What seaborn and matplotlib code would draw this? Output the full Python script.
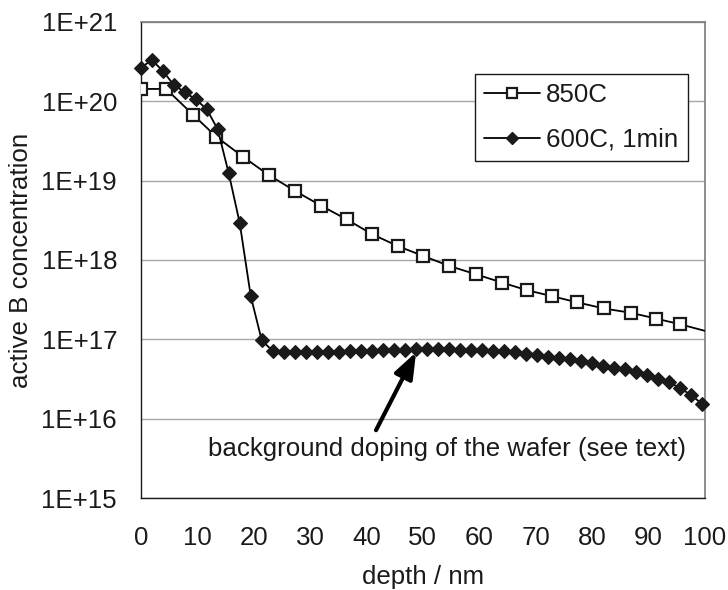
import numpy as np
import pandas as pd
import matplotlib
matplotlib.use("Agg")
import matplotlib.pyplot as plt
from matplotlib.lines import Line2D
from matplotlib.ticker import FixedLocator, FuncFormatter, NullLocator
import seaborn as sns

# Boron profile after the 850C anneal (depth in nm, active B in cm^-3)
depth_850 = [0.0, 4.5, 9.3, 13.4, 18.2, 22.7, 27.4, 32.0, 36.5, 41.0, 45.6,
             50.1, 54.7, 59.4, 64.0, 68.4, 72.9, 77.4, 82.1, 86.9, 91.3,
             95.6, 100.2]
conc_850 = [1.42e20, 1.42e20, 6.7e19, 3.55e19, 1.97e19, 1.17e19, 7.35e18,
            4.8e18, 3.24e18, 2.11e18, 1.49e18, 1.12e18, 8.4e17, 6.6e17,
            5.2e17, 4.17e17, 3.5e17, 2.92e17, 2.45e17, 2.16e17, 1.83e17,
            1.55e17, 1.27e17]

# Boron profile after the 600C, 1 min anneal
depth_600 = [0.0, 1.95, 3.9, 5.85, 7.8, 9.75, 11.7, 13.65, 15.6, 17.55,
             19.5, 21.45, 23.4, 25.35, 27.3, 29.25, 31.2, 33.15, 35.1,
             37.05, 39.0, 40.95, 42.9, 44.85, 46.8, 48.75, 50.7, 52.65,
             54.6, 56.55, 58.5, 60.45, 62.4, 64.35, 66.3, 68.25, 70.2,
             72.15, 74.1, 76.05, 78.0, 79.95, 81.9, 83.85, 85.8, 87.75,
             89.7, 91.65, 93.6, 95.55, 97.5, 99.45]
conc_600 = [2.6e20, 3.3e20, 2.4e20, 1.6e20, 1.29e20, 1.05e20, 7.9e19,
            4.4e19, 1.23e19, 2.9e18, 3.5e17, 9.7e16, 7.15e16, 6.95e16,
            6.9e16, 6.9e16, 6.95e16, 6.95e16, 7.0e16, 7.1e16, 7.1e16,
            7.15e16, 7.3e16, 7.3e16, 7.35e16, 7.5e16, 7.55e16, 7.55e16,
            7.5e16, 7.45e16, 7.35e16, 7.3e16, 7.25e16, 7.2e16, 6.9e16,
            6.6e16, 6.4e16, 6.0e16, 5.8e16, 5.6e16, 5.3e16, 5.0e16,
            4.65e16, 4.4e16, 4.2e16, 3.9e16, 3.55e16, 3.2e16, 2.9e16,
            2.45e16, 2.0e16, 1.55e16]

series_labels = ["850C", "600C, 1min"]
x_ticks = [0, 10, 20, 30, 40, 50, 60, 70, 80, 90, 100]
y_tick_exponents = [15, 16, 17, 18, 19, 20, 21]

annotation_text = "background doping of the wafer (see text)"
arrow_tip = (48.8, 6.9e16)
arrow_tail = (41.7, 7.2e15)
text_pos = (54.2, 4.2e15)

FS = 18.6
INK = "#1a1a1a"

sns.set_style("white")
plt.rcParams["font.family"] = ["Liberation Sans", "DejaVu Sans"]
plt.rcParams["font.size"] = FS

df_850 = pd.DataFrame({"depth": depth_850, "conc": conc_850})
df_600 = pd.DataFrame({"depth": depth_600, "conc": conc_600})

fig = plt.figure(figsize=(7.28, 5.90), dpi=100)
ax = fig.add_axes([0.1933, 0.1554, 0.9684 - 0.1933, 0.9634 - 0.1554])

ax.set_yscale("log")
ax.set_xlim(0, 100)
ax.set_ylim(1e15, 1e21)

# 850C: connecting line runs to the frame edge, markers only inside range
sns.lineplot(data=df_850, x="depth", y="conc", ax=ax, color="black",
             lw=1.3, estimator=None, sort=False, legend=False, zorder=3)
in_range = df_850[df_850["depth"] <= 100]
sns.lineplot(data=in_range, x="depth", y="conc", ax=ax, color="black",
             lw=0, marker="s", markersize=9, markerfacecolor="white",
             markeredgecolor=INK, markeredgewidth=1.6,
             estimator=None, sort=False, legend=False, zorder=4)

# 600C, 1 min
sns.lineplot(data=df_600, x="depth", y="conc", ax=ax, color="black",
             lw=1.3, marker="D", markersize=7.4, markerfacecolor=INK,
             markeredgecolor=INK, markeredgewidth=0.8,
             estimator=None, sort=False, legend=False, zorder=5)
ax.lines[-1].set_clip_on(False)

# axes styling
ax.yaxis.set_major_locator(FixedLocator([10.0 ** e for e in y_tick_exponents]))
ax.yaxis.set_minor_locator(NullLocator())
ax.yaxis.set_major_formatter(
    FuncFormatter(lambda v, _: "1E+%d" % int(round(np.log10(v)))))
ax.xaxis.set_major_locator(FixedLocator(x_ticks))
ax.set_xticklabels([str(t) for t in x_ticks])

ax.yaxis.grid(True, color="#a8a8a8", lw=1.0)
ax.xaxis.grid(False)
ax.set_axisbelow(True)

for side in ("left", "bottom"):
    ax.spines[side].set_color(INK)
    ax.spines[side].set_linewidth(1.0)
for side in ("top", "right"):
    ax.spines[side].set_color("#7a7a7a")
    ax.spines[side].set_linewidth(1.2)

ax.tick_params(axis="both", which="major", direction="out", length=5,
               width=1.0, color=INK, labelsize=FS, labelcolor=INK)
ax.tick_params(axis="y", pad=12)
ax.tick_params(axis="x", pad=15)

ax.set_xlabel("depth / nm", fontsize=FS, color=INK, labelpad=11)
ax.set_ylabel("active B concentration", fontsize=FS, color=INK, labelpad=6)

# legend
handles = [
    Line2D([], [], color="black", lw=1.3, marker="s", markersize=9,
           markerfacecolor="white", markeredgecolor=INK,
           markeredgewidth=1.6),
    Line2D([], [], color="black", lw=1.3, marker="D", markersize=7.4,
           markerfacecolor=INK, markeredgecolor=INK),
]
leg = ax.legend(handles, series_labels, loc="upper right",
                bbox_to_anchor=(0.969, 0.8896), borderaxespad=0,
                fancybox=False, framealpha=1, edgecolor=INK,
                fontsize=FS, handlelength=2.15, handletextpad=0.25,
                labelspacing=0.8, borderpad=0.35, markerscale=0.8)
leg.get_frame().set_linewidth(1.0)
for t in leg.get_texts():
    t.set_color(INK)

# annotation arrow and note
ax.annotate("", xy=arrow_tip, xytext=arrow_tail,
            arrowprops=dict(arrowstyle="-|>,head_length=0.85,head_width=0.32",
                            lw=3, color="black", shrinkA=0, shrinkB=0),
            zorder=6)
ax.text(text_pos[0], text_pos[1], annotation_text, ha="center", va="center",
        fontsize=FS, color=INK)

fig.savefig("out.png", dpi=100)
